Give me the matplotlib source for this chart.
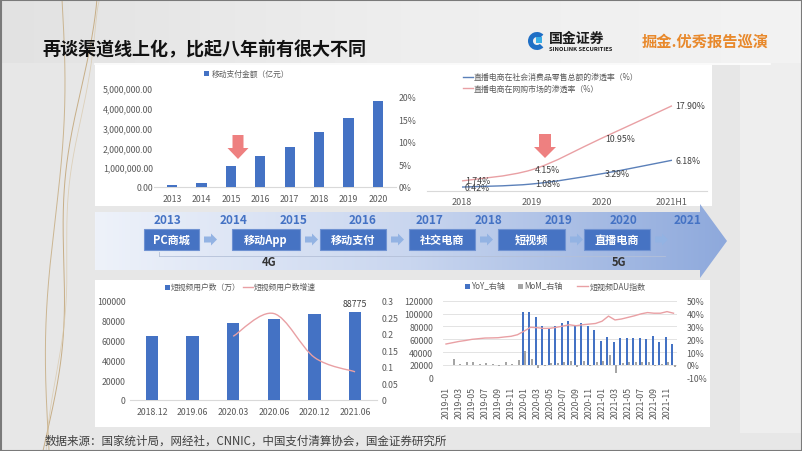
import numpy as np
import matplotlib
matplotlib.use('Agg')
import matplotlib.pyplot as plt
from matplotlib.patches import Rectangle, Polygon, PathPatch, Wedge
from matplotlib.path import Path
from matplotlib.colors import LinearSegmentedColormap

plt.rcParams['font.family'] = ['Noto Sans CJK SC', 'DejaVu Sans']
plt.rcParams['axes.unicode_minus'] = False

# ---------------- data ----------------
pay_years = ['2013', '2014', '2015', '2016', '2017', '2018', '2019', '2020']
pay_amount = [96400, 225900, 1082200, 1575500, 2029300, 2773900, 3471100, 4321600]

live_periods = ['2018', '2019', '2020', '2021H1']
live_retail = [0.42, 1.08, 3.29, 6.18]
live_online = [1.74, 4.15, 10.95, 17.90]

timeline_years = ['2013', '2014', '2015', '2016', '2017', '2018', '2019', '2020', '2021']
timeline_stages = ['PC商城', '移动App', '移动支付', '社交电商', '短视频', '直播电商']
network_labels = ['4G', '5G']

sv_periods = ['2018.12', '2019.06', '2020.03', '2020.06', '2020.12', '2021.06']
sv_users = [64798, 64798, 77325, 81786, 87335, 88775]
sv_growth = [np.nan, np.nan, 0.193, 0.262, 0.129, 0.0855]

months = [f'{y}-{m:02d}' for y in (2019, 2020, 2021) for m in range(1, 13)]
dau_index = [52500, 54500, 56500, 58000, 59800, 60800, 61800, 62000, 62300, 63500, 64500, 67000,
             72500, 78500, 78000, 76800, 77000, 78500, 80500, 82500, 81000, 82500, 83500, 84500,
             88000, 96000, 90000, 91500, 94000, 96500, 99500, 101500, 100500, 100500, 103000, 100500]
yoy = [np.nan] * 12 + [41, 41, 37, 30, 28.5, 30, 32.5, 34.5, 31, 32.5, 30, 27.5,
                       18.5, 21.5, 17.5, 21, 21, 21, 21, 20.5, 22.5, 17.5, 21.5, 16.5]
mom = [np.nan, 4.6, 0.3, 2.6, 2.6, 0.8, 1.2, 0.6, -0.5, 2.0, 0.8, 3.8,
       11.0, 4.6, -2.5, -0.8, 1.5, 1.5, 2.0, 3.0, -2.0, 3.0, -0.5, 2.0,
       3.0, 8.0, -6.5, 1.5, 2.0, 2.0, 2.5, 2.0, -0.5, 0.5, 2.0, -2.0]

# ---------------- styles ----------------
W, H = 802, 452
BLUE = '#4472c4'
PINK = '#e9a0a4'
LBLUE = '#5b80b9'
GRAY = '#a5a5a5'
TXT = '#595959'

fig = plt.figure(figsize=(W / 100, H / 100), dpi=100)
fig.patch.set_facecolor('#e7e7e7')


def px_axes(l, t, r, b):
    a = fig.add_axes([l / W, 1 - b / H, (r - l) / W, (b - t) / H])
    a.patch.set_alpha(0)
    return a


def clean(a, bottom=False):
    for s in a.spines.values():
        s.set_visible(False)
    if bottom:
        a.spines['bottom'].set_visible(True)
        a.spines['bottom'].set_color('#d9d9d9')
        a.spines['bottom'].set_linewidth(0.8)
    a.tick_params(length=0, labelsize=6.3, colors=TXT)


def smooth_path(xs, ys):
    pts = np.column_stack([xs, ys]).astype(float)
    n = len(pts)
    verts = [pts[0]]
    codes = [Path.MOVETO]
    for i in range(n - 1):
        p0 = pts[i - 1] if i > 0 else pts[i]
        p1 = pts[i]
        p2 = pts[i + 1]
        p3 = pts[i + 2] if i + 2 < n else pts[i + 1]
        verts += [p1 + (p2 - p0) / 6, p2 - (p3 - p1) / 6, p2]
        codes += [Path.CURVE4] * 3
    return Path(verts, codes)


# ---------------- background / decorations ----------------
bg = fig.add_axes([0, 0, 1, 1])
bg.set_xlim(0, W)
bg.set_ylim(H, 0)
bg.axis('off')

hdr = np.linspace(0, 1, 256).reshape(1, -1)
bg.imshow(hdr, extent=(0, W, 64, 0), aspect='auto',
          cmap=LinearSegmentedColormap.from_list('h', ['#e2e2e2', '#eeeeee', '#f3f3f3']), zorder=0)
bg.add_patch(Rectangle((740, 64), 62, 370, facecolor='#eeeeee', edgecolor='none', zorder=0.5))
bg.plot([95, 770], [65, 65], color='white', lw=1.2, zorder=1)

yy = np.linspace(0, H, 200)
bg.plot(62 - 14 * (yy / H) + 6 * np.sin(yy / 70), yy, color='#c4a97c', lw=0.7, alpha=0.8, zorder=1)
bg.plot(90 - 45 * (yy / H) + 7 * np.sin(yy / 55 + 1.5), yy, color='#bfa06f', lw=0.7, alpha=0.8, zorder=1)
bg.plot(100 - 50 * (yy / H) ** 0.7 + 4 * np.sin(yy / 40), yy, color='#d8c6a6', lw=0.6, alpha=0.7, zorder=1)

# panels
bg.add_patch(Rectangle((95, 66), 617, 141, facecolor='white', edgecolor='none', zorder=2))
bg.add_patch(Rectangle((95, 281), 615, 147, facecolor='white', edgecolor='none', zorder=2))
bg.add_patch(Rectangle((0.5, 0.5), W - 1, H - 1, facecolor='none', edgecolor='#7a7a7a', lw=1.5, zorder=10))

# title & logo
bg.text(42, 50, '再谈渠道线上化，比起八年前有很大不同', fontsize=13, fontweight='bold',
        color='#111111', va='center', ha='left', zorder=5)
bg.add_patch(Wedge((537, 42), 9, 45, 315, width=5, facecolor='#1f6fc5', edgecolor='none', zorder=5))
bg.add_patch(Rectangle((536, 38), 6, 6, facecolor='#39aee6', edgecolor='none', zorder=5))
bg.text(549, 39, '国金证券', fontsize=10, fontweight='bold', color='#1a1a1a', va='center', ha='left', zorder=5)
bg.text(549, 49.5, 'SINOLINK SECURITIES', fontsize=4.2, fontweight='bold', color='#1a1a1a',
        va='center', ha='left', zorder=5)
bg.text(642, 42, '掘金.优秀报告巡演', fontsize=11, fontweight='bold', style='italic',
        color='#e8892c', va='center', ha='left', zorder=5)

# footer
bg.text(45, 441, '数据来源：国家统计局，网经社，CNNIC，中国支付清算协会，国金证券研究所',
        fontsize=8.3, color='#404040', va='center', ha='left', zorder=5)

# ---------------- timeline band ----------------
band = Polygon([(95, 213), (700, 213), (700, 205), (727, 242), (700, 279), (700, 271), (95, 271)],
               closed=True, facecolor='none', edgecolor='none', zorder=3)
bg.add_patch(band)
grad = np.linspace(0, 1, 256).reshape(1, -1)
im = bg.imshow(grad, extent=(95, 727, 279, 205), aspect='auto',
               cmap=LinearSegmentedColormap.from_list('b', ['#eef2fa', '#c9d6ef', '#8ea9dc']), zorder=3)
im.set_clip_path(band)

year_x = [167, 234, 294, 363, 430, 488, 559, 623, 688]
for x, t in zip(year_x, timeline_years):
    bg.text(x, 221, t, fontsize=8.5, fontweight='bold', color='#4472c4', ha='center', va='center', zorder=5)

box_x = [(144, 199), (232, 300), (320, 386), (409, 475), (498, 565), (584, 650)]
for (x0, x1), t in zip(box_x, timeline_stages):
    bg.add_patch(Rectangle((x0, 230), x1 - x0, 21, facecolor='#4673c3', edgecolor='#6f92d2',
                           lw=0.8, zorder=4))
    bg.text((x0 + x1) / 2, 240.5, t, fontsize=8, fontweight='bold', color='white',
            ha='center', va='center', zorder=5)
    c = x1 + 5
    bg.add_patch(Polygon([(c, 237.5), (c + 7, 237.5), (c + 7, 234.5), (c + 13, 240.5),
                          (c + 7, 246.5), (c + 7, 243.5), (c, 243.5)], closed=True,
                         facecolor='#93b3e3', edgecolor='none', zorder=4))

bg.plot([159, 540], [257, 257], color='#b4c0d8', lw=0.6, zorder=4)
bg.plot([159, 159], [253, 257], color='#b4c0d8', lw=0.6, zorder=4)
bg.plot([540, 665], [257, 257], color='#b4c0d8', lw=0.6, zorder=4)
bg.text(269, 263, network_labels[0], fontsize=8, fontweight='bold', color='#333333',
        ha='center', va='center', zorder=5)
bg.text(619, 263, network_labels[1], fontsize=8, fontweight='bold', color='#333333',
        ha='center', va='center', zorder=5)


def down_arrow(cx, top, hstart, tip, sw, hw, color='#ee8080'):
    bg.add_patch(Polygon([(cx - sw, top), (cx + sw, top), (cx + sw, hstart), (cx + hw, hstart),
                          (cx, tip), (cx - hw, hstart), (cx - sw, hstart)], closed=True,
                         facecolor=color, edgecolor='none', zorder=6))


down_arrow(238, 136, 149, 160, 5.5, 10.5)
down_arrow(545, 135, 148, 159, 6, 11)

# ---------------- chart 1: mobile payment ----------------
ax1 = px_axes(154.4, 89, 395.6, 188)
x1 = np.arange(len(pay_years))
ax1.bar(x1, pay_amount, width=0.35, color=BLUE, zorder=3)
ax1.set_xlim(-0.6, len(pay_years) - 0.4)
ax1.set_ylim(0, 5000000)
ax1.set_yticks(np.arange(0, 5000001, 1000000))
ax1.set_yticklabels([f'{v:,.2f}' for v in np.arange(0, 5000001, 1000000)])
ax1.set_xticks(x1)
ax1.set_xticklabels(pay_years)
clean(ax1, bottom=True)
ax1.tick_params(axis='y', pad=1)
ax1.tick_params(axis='x', pad=5)
ax1r = ax1.twinx()
ax1r.patch.set_alpha(0)
ax1r.set_ylim(0.43, 21.96)
ax1r.set_yticks([0, 5, 10, 15, 20])
ax1r.set_yticklabels(['0%', '5%', '10%', '15%', '20%'])
clean(ax1r)
ax1r.tick_params(axis='y', pad=2)
bg.add_patch(Rectangle((204, 72), 5, 5, facecolor=BLUE, edgecolor='none', zorder=5))
bg.text(212, 74.5, '移动支付金额（亿元）', fontsize=5.6, color=TXT, va='center', ha='left', zorder=5)

# ---------------- chart 2: live commerce penetration ----------------
ax2 = px_axes(427, 97, 707, 192)
x2 = np.arange(len(live_periods))
ax2.set_xlim(-0.5, len(live_periods) - 0.5)
ax2.set_ylim(-0.43, 20)
ax2.add_patch(PathPatch(smooth_path(x2, live_online), facecolor='none', edgecolor=PINK, lw=1.0, zorder=3))
ax2.add_patch(PathPatch(smooth_path(x2, live_retail), facecolor='none', edgecolor=LBLUE, lw=1.0, zorder=3))
for xi, v in zip(x2, live_online):
    ax2.annotate(f'{v:.2f}%', (xi, v), xytext=(3, 0), textcoords='offset pixels',
                 fontsize=6.3, color='#404040', va='center', ha='left')
for xi, v in zip(x2, live_retail):
    ax2.annotate(f'{v:.2f}%', (xi, v), xytext=(3, 0), textcoords='offset pixels',
                 fontsize=6.3, color='#404040', va='center', ha='left')
ax2.set_xticks(x2)
ax2.set_xticklabels(live_periods)
ax2.set_yticks([])
clean(ax2, bottom=True)
ax2.tick_params(axis='x', pad=4, labelsize=6.5)
bg.plot([463, 473], [77.5, 77.5], color=LBLUE, lw=1, zorder=5)
bg.text(474, 77.5, '直播电商在社会消费品零售总额的渗透率（%）', fontsize=5.7, color=TXT,
        va='center', ha='left', zorder=5)
bg.plot([463, 473], [89, 89], color=PINK, lw=1, zorder=5)
bg.text(474, 89, '直播电商在网购市场的渗透率（%）', fontsize=5.7, color=TXT,
        va='center', ha='left', zorder=5)

# ---------------- chart 3: short video users ----------------
ax3 = px_axes(130, 302, 377, 401)
x3 = np.arange(len(sv_periods))
ax3.bar(x3, sv_users, width=0.31, color=BLUE, zorder=3)
ax3.set_xlim(-0.54, len(sv_periods) - 0.46)
ax3.set_ylim(0, 100000)
ax3.set_yticks(np.arange(0, 100001, 20000))
ax3.set_xticks(x3)
ax3.set_xticklabels(sv_periods)
clean(ax3, bottom=True)
ax3.tick_params(axis='y', pad=3)
ax3.tick_params(axis='x', pad=5)
ax3.annotate(f'{sv_users[-1]}', (x3[-1], sv_users[-1]), xytext=(0, 4), textcoords='offset pixels',
             fontsize=6.3, color='#404040', ha='center', va='bottom')
ax3r = ax3.twinx()
ax3r.patch.set_alpha(0)
ax3r.set_ylim(0, 0.3)
ax3r.set_yticks([0, 0.05, 0.1, 0.15, 0.2, 0.25, 0.3])
ax3r.set_yticklabels(['0', '0.05', '0.1', '0.15', '0.2', '0.25', '0.3'])
g = np.array(sv_growth)
m = ~np.isnan(g)
ax3r.add_patch(PathPatch(smooth_path(x3[m], g[m]), facecolor='none', edgecolor=PINK, lw=1.0, zorder=3))
clean(ax3r)
ax3r.tick_params(axis='y', pad=3)
bg.add_patch(Rectangle((165, 285.5), 5, 5, facecolor=BLUE, edgecolor='none', zorder=5))
bg.text(171, 288, '短视频用户数（万）', fontsize=5.6, color=TXT, va='center', ha='left', zorder=5)
bg.plot([243, 253], [288, 288], color=PINK, lw=1, zorder=5)
bg.text(254, 288, '短视频用户数增速', fontsize=5.6, color=TXT, va='center', ha='left', zorder=5)

# ---------------- chart 4: short video DAU ----------------
ax4 = px_axes(442.75, 301.7, 676.75, 378.7)
x4 = np.arange(len(months))
ax4.set_xlim(-0.5, len(months) - 0.5)
ax4.set_ylim(0, 120000)
ax4.set_yticks(np.arange(0, 120001, 20000))
ax4.yaxis.grid(True, color='#e3e3e3', lw=0.7, zorder=0)
ax4.set_axisbelow(True)
ax4.set_xticks(x4[::2])
ax4.set_xticklabels(months[::2], rotation=90)
clean(ax4)
ax4.tick_params(axis='y', pad=7)
ax4.tick_params(axis='x', pad=6)
ax4r = ax4.twinx()
ax4r.patch.set_alpha(0)
ax4r.set_ylim(-10, 50)
ax4r.set_yticks(np.arange(-10, 51, 10))
ax4r.set_yticklabels([f'{v}%' for v in range(-10, 51, 10)])
ax4r.bar(x4 - 0.17, yoy, width=0.32, color=BLUE, zorder=3)
ax4r.bar(x4 + 0.17, mom, width=0.32, color=GRAY, zorder=3)
ax4r.plot(x4, np.array(dau_index) / 120000 * 60 - 10, color=PINK, lw=1.0, zorder=4)
clean(ax4r)
ax4r.tick_params(axis='y', pad=7)
bg.add_patch(Rectangle((465, 284.5), 5, 5, facecolor=BLUE, edgecolor='none', zorder=5))
bg.text(471, 287, 'YoY_右轴', fontsize=5.8, color=TXT, va='center', ha='left', zorder=5)
bg.add_patch(Rectangle((518, 284.5), 5, 5, facecolor=GRAY, edgecolor='none', zorder=5))
bg.text(524, 287, 'MoM_右轴', fontsize=5.8, color=TXT, va='center', ha='left', zorder=5)
bg.plot([577, 588], [287, 287], color=PINK, lw=1, zorder=5)
bg.text(590, 287, '短视频DAU指数', fontsize=5.8, color=TXT, va='center', ha='left', zorder=5)

fig.savefig('out.png', dpi=100)
